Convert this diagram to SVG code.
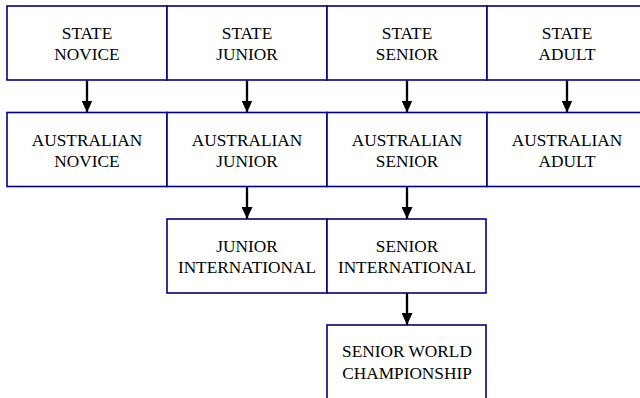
<svg xmlns="http://www.w3.org/2000/svg" width="640" height="398" viewBox="0 0 640 398">
<style>
.box{fill:#ffffff;stroke:#000080;stroke-width:1.6}
.t{font-family:"Liberation Serif","Times New Roman",serif;font-size:17.3px;fill:#000000;text-anchor:middle}
.c{stroke:#000000;stroke-width:2.3;fill:none;marker-end:url(#ah)}
</style>
<defs>
<marker id="ah" viewBox="0 0 12 11" refX="12" refY="5.5" markerWidth="12" markerHeight="11" markerUnits="userSpaceOnUse" orient="auto">
<path d="M0,0 L12,5.5 L0,11 z" fill="#000000"/>
</marker>
</defs>
<rect width="640" height="398" fill="#ffffff"/>
<g id="connectors">
<line class="c" x1="87" y1="80.5" x2="87" y2="112.5"/>
<line class="c" x1="247" y1="80.5" x2="247" y2="112.5"/>
<line class="c" x1="407" y1="80.5" x2="407" y2="112.5"/>
<line class="c" x1="567" y1="80.5" x2="567" y2="112.5"/>
<line class="c" x1="247" y1="186.5" x2="247" y2="219"/>
<line class="c" x1="407" y1="186.5" x2="407" y2="219"/>
<line class="c" x1="407" y1="293" x2="407" y2="325"/>
</g>
<g id="state-novice"><rect class="box" x="7" y="6" width="160" height="74"/><text class="t" x="87" y="39.3">STATE</text><text class="t" x="87" y="60">NOVICE</text></g>
<g id="state-junior"><rect class="box" x="167" y="6" width="160" height="74"/><text class="t" x="247" y="39.3">STATE</text><text class="t" x="247" y="60">JUNIOR</text></g>
<g id="state-senior"><rect class="box" x="327" y="6" width="160" height="74"/><text class="t" x="407" y="39.3">STATE</text><text class="t" x="407" y="60">SENIOR</text></g>
<g id="state-adult"><rect class="box" x="487" y="6" width="160" height="74"/><text class="t" x="567" y="39.3">STATE</text><text class="t" x="567" y="60">ADULT</text></g>
<g id="australian-novice"><rect class="box" x="7" y="112.5" width="160" height="74"/><text class="t" x="87" y="146">AUSTRALIAN</text><text class="t" x="87" y="166.7">NOVICE</text></g>
<g id="australian-junior"><rect class="box" x="167" y="112.5" width="160" height="74"/><text class="t" x="247" y="146">AUSTRALIAN</text><text class="t" x="247" y="166.7">JUNIOR</text></g>
<g id="australian-senior"><rect class="box" x="327" y="112.5" width="160" height="74"/><text class="t" x="407" y="146">AUSTRALIAN</text><text class="t" x="407" y="166.7">SENIOR</text></g>
<g id="australian-adult"><rect class="box" x="487" y="112.5" width="160" height="74"/><text class="t" x="567" y="146">AUSTRALIAN</text><text class="t" x="567" y="166.7">ADULT</text></g>
<g id="junior-international"><rect class="box" x="167" y="219" width="160" height="74"/><text class="t" x="247" y="251.7">JUNIOR</text><text class="t" x="247" y="272.7">INTERNATIONAL</text></g>
<g id="senior-international"><rect class="box" x="327" y="219" width="159" height="74"/><text class="t" x="407" y="251.7">SENIOR</text><text class="t" x="407" y="272.7">INTERNATIONAL</text></g>
<g id="senior-world-championship"><rect class="box" x="327" y="325" width="159" height="80"/><text class="t" x="407" y="357.3">SENIOR WORLD</text><text class="t" x="407" y="379">CHAMPIONSHIP</text></g>
</svg>
